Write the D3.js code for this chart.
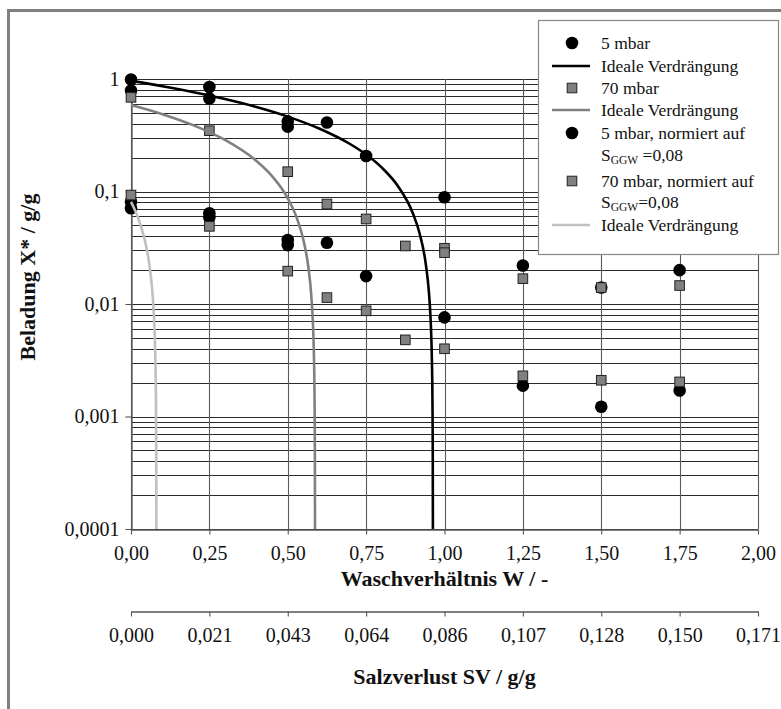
<!DOCTYPE html>
<html><head><meta charset="utf-8">
<script src="https://cdn.jsdelivr.net/npm/d3@7"></script>
<style>body{margin:0;background:#fff}svg{display:block}</style>
</head><body><svg id="c" width="781" height="709"></svg>
<script>
// ---- data ----
const wTicks = [0, 0.25, 0.5, 0.75, 1.0, 1.25, 1.5, 1.75, 2.0];
const wTickLabels = ["0,00","0,25","0,50","0,75","1,00","1,25","1,50","1,75","2,00"];
const svTickLabels = ["0,000","0,021","0,043","0,064","0,086","0,107","0,128","0,150","0,171"];
const yTicks = [1, 0.1, 0.01, 0.001, 0.0001];
const yTickLabels = ["1","0,1","0,01","0,001","0,0001"];

const w5 = [0, 0, 0.25, 0.25, 0.5, 0.5, 0.625, 0.75, 1.0, 1.25, 1.5, 1.75];
const x5 = [0.99, 0.79, 0.85, 0.67, 0.42, 0.377, 0.41, 0.207, 0.0888, 0.022, 0.014, 0.020];
const w70 = [0, 0.25, 0.5, 0.625, 0.75, 0.875, 1.0, 1.0, 1.25, 1.5, 1.75];
const x70 = [0.687, 0.347, 0.15, 0.0774, 0.057, 0.0328, 0.0313, 0.0286, 0.0168, 0.014, 0.0146];
const w5n = [0, 0, 0.25, 0.25, 0.5, 0.5, 0.625, 0.75, 1.0, 1.25, 1.5, 1.75];
const x5n = [0.081, 0.071, 0.064, 0.059, 0.037, 0.0334, 0.035, 0.0177, 0.0076, 0.00188, 0.00122, 0.0017];
const w70n = [0, 0.25, 0.5, 0.625, 0.75, 0.875, 1.0, 1.25, 1.5, 1.75];
const x70n = [0.093, 0.049, 0.0196, 0.0114, 0.0087, 0.0048, 0.0040, 0.0023, 0.0021, 0.00203];

// ideal displacement curves
const idealW5 = [0, 0.1, 0.2, 0.3, 0.4, 0.5, 0.6, 0.7, 0.75, 0.8, 0.85, 0.9, 0.92, 0.94, 0.95, 0.955, 0.958, 0.96, 0.961, 0.962, 0.9625, 0.963];
const idealX5 = [0.963, 0.863, 0.763, 0.663, 0.563, 0.463, 0.363, 0.263, 0.213, 0.163, 0.113, 0.063, 0.043, 0.023, 0.013, 0.008, 0.005, 0.003, 0.002, 0.001, 0.0005, 0.0001];
const idealW70 = [0, 0.1, 0.2, 0.3, 0.4, 0.45, 0.5, 0.53, 0.55, 0.565, 0.575, 0.58, 0.583, 0.585, 0.586, 0.5865, 0.587];
const idealX70 = [0.587, 0.487, 0.387, 0.287, 0.187, 0.137, 0.087, 0.057, 0.037, 0.022, 0.012, 0.007, 0.004, 0.002, 0.001, 0.0005, 0.0001];
const idealWn = [0, 0.02, 0.04, 0.05, 0.06, 0.07, 0.075, 0.078, 0.079, 0.08, 0.0805, 0.081];
const idealXn = [0.081, 0.061, 0.041, 0.031, 0.021, 0.011, 0.006, 0.003, 0.002, 0.001, 0.0005, 0.0001];

// ---- drawing ----
const svg = d3.select("#c");
const FONT = "'Liberation Serif','Times New Roman',serif";
const x = d3.scaleLinear().domain([0, 2]).range([131, 758]);
const y = d3.scaleLog().domain([0.0001, 1]).range([529, 79]);

// outer frame
svg.append("rect").attr("x", 8.5).attr("y", 10.5).attr("width", 800).attr("height", 720)
  .attr("fill", "none").attr("stroke", "#808080").attr("stroke-width", 3);

// gridlines
const grid = svg.append("g");
grid.selectAll("line.h").data(y.ticks()).join("line")
  .attr("x1", x(0)).attr("x2", x(2)).attr("y1", d => Math.round(y(d)) + 0.5).attr("y2", d => Math.round(y(d)) + 0.5)
  .attr("stroke", "#2a2a2a").attr("stroke-width", 1.1);
grid.selectAll("line.v").data(wTicks).join("line")
  .attr("y1", y(1)).attr("y2", y(0.0001)).attr("x1", d => Math.round(x(d)) + 0.5).attr("x2", d => Math.round(x(d)) + 0.5)
  .attr("stroke", "#5a5a5a").attr("stroke-width", 1.1);

// axes
const yAxis = d3.axisLeft(y).tickValues(yTicks).tickFormat((d, i) => yTickLabels[i]).tickSize(6).tickSizeOuter(0).tickPadding(6);
const gy = svg.append("g").attr("transform", "translate(131.5,0)").call(yAxis);
const xAxis = d3.axisBottom(x).tickValues(wTicks).tickFormat((d, i) => wTickLabels[i]).tickSize(5).tickSizeOuter(0).tickPadding(11);
const gx = svg.append("g").attr("transform", "translate(0,529.5)").call(xAxis);
const sv = d3.scaleLinear().domain([0, 2]).range([131, 758]);
const svAxis = d3.axisBottom(sv).tickValues(wTicks).tickFormat((d, i) => svTickLabels[i]).tickSize(5).tickSizeOuter(0).tickPadding(11);
const gsv = svg.append("g").attr("transform", "translate(0,611.5)").call(svAxis);
[gy, gx, gsv].forEach(g => {
  g.attr("font-family", FONT);
  g.selectAll("path.domain").attr("stroke", "#555").attr("stroke-width", 1.3);
  g.selectAll(".tick line").attr("stroke", "#555").attr("stroke-width", 1.1);
  g.selectAll("text").attr("font-family", FONT).attr("font-size", 20).attr("fill", "#111");
});

// curves & markers
const line = (ws, xs) => d3.line().x(i => x(ws[i])).y(i => y(xs[i])).curve(d3.curveMonotoneX)(d3.range(ws.length));
function circles(ws, xs) {
  svg.append("g").selectAll("circle").data(d3.range(ws.length)).join("circle")
    .attr("cx", i => x(ws[i])).attr("cy", i => y(xs[i])).attr("r", 6.3).attr("fill", "#000");
}
function squares(ws, xs) {
  svg.append("g").selectAll("rect").data(d3.range(ws.length)).join("rect")
    .attr("x", i => x(ws[i]) - 4.8).attr("y", i => y(xs[i]) - 4.8).attr("width", 9.6).attr("height", 9.6)
    .attr("fill", "#808080").attr("stroke", "#222").attr("stroke-width", 1);
}
circles(w5, x5);
svg.append("path").attr("d", line(idealW5, idealX5)).attr("fill", "none").attr("stroke", "#000").attr("stroke-width", 2.6);
squares(w70, x70);
svg.append("path").attr("d", line(idealW70, idealX70)).attr("fill", "none").attr("stroke", "#808080").attr("stroke-width", 2.6);
circles(w5n, x5n);
squares(w70n, x70n);
svg.append("path").attr("d", line(idealWn, idealXn)).attr("fill", "none").attr("stroke", "#c0c0c0").attr("stroke-width", 2.6);

// axis titles
svg.append("text").attr("x", 444.5).attr("y", 586).attr("text-anchor", "middle")
  .attr("font-family", FONT).attr("font-size", 22).attr("font-weight", "bold").attr("fill", "#111").text("Waschverhältnis W / -");
svg.append("text").attr("x", 444.5).attr("y", 684).attr("text-anchor", "middle")
  .attr("font-family", FONT).attr("font-size", 22).attr("font-weight", "bold").attr("fill", "#111").text("Salzverlust SV / g/g");
svg.append("text").attr("transform", "translate(35,277) rotate(-90)").attr("text-anchor", "middle")
  .attr("font-family", FONT).attr("font-size", 22).attr("font-weight", "bold").attr("fill", "#111").text("Beladung X* / g/g");

// legend
const lg = svg.append("g");
lg.append("rect").attr("x", 538.5).attr("y", 20.5).attr("width", 240).attr("height", 234)
  .attr("fill", "#fff").attr("stroke", "#888").attr("stroke-width", 1.2);
const legendRows = [
  {t: "5 mbar", s: "circle", c: 43},
  {t: "Ideale Verdrängung", s: "line", col: "#000", c: 66},
  {t: "70 mbar", s: "square", c: 88},
  {t: "Ideale Verdrängung", s: "line", col: "#808080", c: 110},
  {t: "5 mbar, normiert auf", s: "circle", c: 133},
  {t: "S|GGW| =0,08", s: null, c: 155},
  {t: "70 mbar, normiert auf", s: "square", c: 181},
  {t: "S|GGW|=0,08", s: null, c: 202},
  {t: "Ideale Verdrängung", s: "line", col: "#c0c0c0", c: 225}
];
legendRows.forEach(r => {
  if (r.s === "circle") lg.append("circle").attr("cx", 572).attr("cy", r.c).attr("r", 6.3).attr("fill", "#000");
  if (r.s === "square") lg.append("rect").attr("x", 567.2).attr("y", r.c - 4.8).attr("width", 9.6).attr("height", 9.6)
    .attr("fill", "#808080").attr("stroke", "#222");
  if (r.s === "line") lg.append("line").attr("x1", 552).attr("x2", 590).attr("y1", r.c).attr("y2", r.c)
    .attr("stroke", r.col).attr("stroke-width", 2.6);
  const t = lg.append("text").attr("x", 601).attr("y", r.c + 6).attr("font-family", FONT).attr("font-size", 17.5).attr("fill", "#111");
  const parts = r.t.split("|");
  if (parts.length === 1) t.text(r.t);
  else {
    t.append("tspan").text(parts[0]);
    t.append("tspan").attr("font-size", 11.5).attr("dy", 3).text(parts[1]);
    t.append("tspan").attr("dy", -3).text(parts[2]);
  }
});
</script></body></html>
